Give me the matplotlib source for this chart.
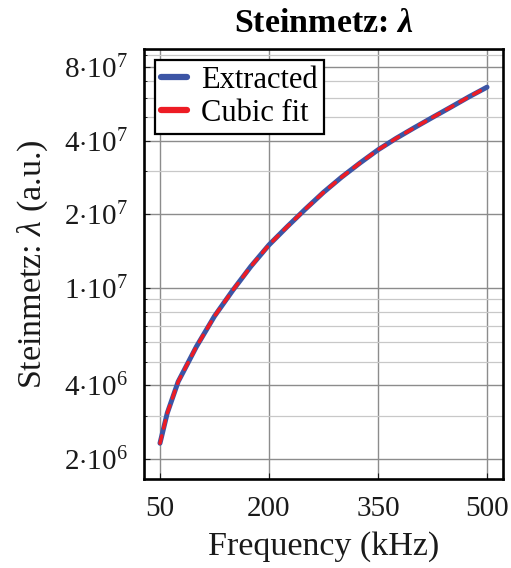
import matplotlib
matplotlib.use('Agg')
import matplotlib.pyplot as plt
from matplotlib.lines import Line2D
from matplotlib.ticker import FixedLocator, FixedFormatter, LogLocator, NullFormatter

# ---- data ----
freq = [50, 60, 75, 100, 125, 150, 175, 200, 225, 250, 275, 300, 325, 350, 375, 400, 425, 450, 475, 500]
extracted = [2.32e6, 3.08e6, 4.14e6, 5.75e6, 7.67e6, 9.77e6, 1.225e7, 1.50e7, 1.78e7, 2.10e7, 2.46e7,
             2.84e7, 3.24e7, 3.67e7, 4.09e7, 4.52e7, 4.98e7, 5.48e7, 6.04e7, 6.62e7]
cubic_fit = [2.32e6, 3.08e6, 4.14e6, 5.75e6, 7.67e6, 9.77e6, 1.225e7, 1.50e7, 1.78e7, 2.10e7, 2.46e7,
             2.84e7, 3.24e7, 3.67e7, 4.09e7, 4.52e7, 4.98e7, 5.48e7, 6.04e7, 6.62e7]
xticks = [50, 200, 350, 500]
yticks = [2e6, 4e6, 1e7, 2e7, 4e7, 8e7]
ytick_labels = [r'$2{\cdot}10^{6}$', r'$4{\cdot}10^{6}$', r'$1{\cdot}10^{7}$',
                r'$2{\cdot}10^{7}$', r'$4{\cdot}10^{7}$', r'$8{\cdot}10^{7}$']

plt.rcParams['font.family'] = ['Liberation Serif', 'DejaVu Serif']
plt.rcParams['mathtext.fontset'] = 'custom'
plt.rcParams['mathtext.rm'] = 'Liberation Serif'
plt.rcParams['mathtext.it'] = 'Liberation Serif:italic'
plt.rcParams['mathtext.bf'] = 'Liberation Serif:bold'
plt.rcParams['mathtext.bfit'] = 'Liberation Serif:bold:italic'

BLUE = '#3c55a5'
RED = '#ed1c24'
TXT = '#1a1a1a'

fig = plt.figure(figsize=(5.11, 5.68), dpi=100)
ax = fig.add_axes([144/511, 1-479/568, (503-144)/511, (479-49)/568])

ax.set_yscale('log')
ax.set_xlim(28, 522)
ax.set_ylim(1.657e6, 9.48e7)

ax.plot(freq, extracted, color=BLUE, lw=3.6, solid_capstyle='round', solid_joinstyle='round', zorder=3)
ax.plot(freq, cubic_fit, color=RED, lw=2.5, dashes=(2.2, 2.3), dash_capstyle='round',
        dash_joinstyle='round', zorder=4)

ax.xaxis.set_major_locator(FixedLocator(xticks))
ax.set_xticklabels([str(t) for t in xticks])
ax.yaxis.set_major_locator(FixedLocator(yticks))
ax.yaxis.set_major_formatter(FixedFormatter(ytick_labels))
ax.yaxis.set_minor_locator(LogLocator(base=10, subs=[2, 3, 4, 5, 6, 7, 8, 9]))
ax.yaxis.set_minor_formatter(NullFormatter())

ax.grid(True, which='major', color='#8c8c8c', lw=1.0, zorder=0)
ax.grid(True, which='minor', axis='y', color='#c8c8c8', lw=0.9, zorder=0)
ax.set_axisbelow(True)

ax.tick_params(axis='both', which='major', direction='in', length=4, width=0.8,
               labelsize=21, colors=TXT)
ax.tick_params(axis='y', which='major', pad=12)
ax.tick_params(axis='x', which='major', pad=12)
ax.tick_params(axis='y', which='minor', direction='in', length=2, width=0.6)
for sp in ax.spines.values():
    sp.set_linewidth(1.9)
    sp.set_color('black')

ax.set_xlabel('Frequency (kHz)', fontsize=24.5, color=TXT, labelpad=7)
ax.set_ylabel(r'Steinmetz: $\lambda$ (a.u.)', fontsize=24.5, color=TXT)
ax.yaxis.set_label_coords(-0.262, 0.5)
ax.set_title(r'Steinmetz: $\mathbfit{\lambda}$', fontsize=24.5, fontweight='bold', pad=12)

handles = [Line2D([], [], color=BLUE, lw=4.5, solid_capstyle='round'),
           Line2D([], [], color=RED, lw=4.5, solid_capstyle='round')]
leg = ax.legend(handles, ['Extracted', 'Cubic fit'], loc='upper left',
                bbox_to_anchor=(0.031, 0.975), fontsize=22, frameon=True, fancybox=False,
                framealpha=1, edgecolor='black', handlelength=0.85, handletextpad=0.45,
                borderpad=0.2, labelspacing=0.12, borderaxespad=0)
leg.get_frame().set_linewidth(1.6)

fig.savefig('out.png', dpi=100)
